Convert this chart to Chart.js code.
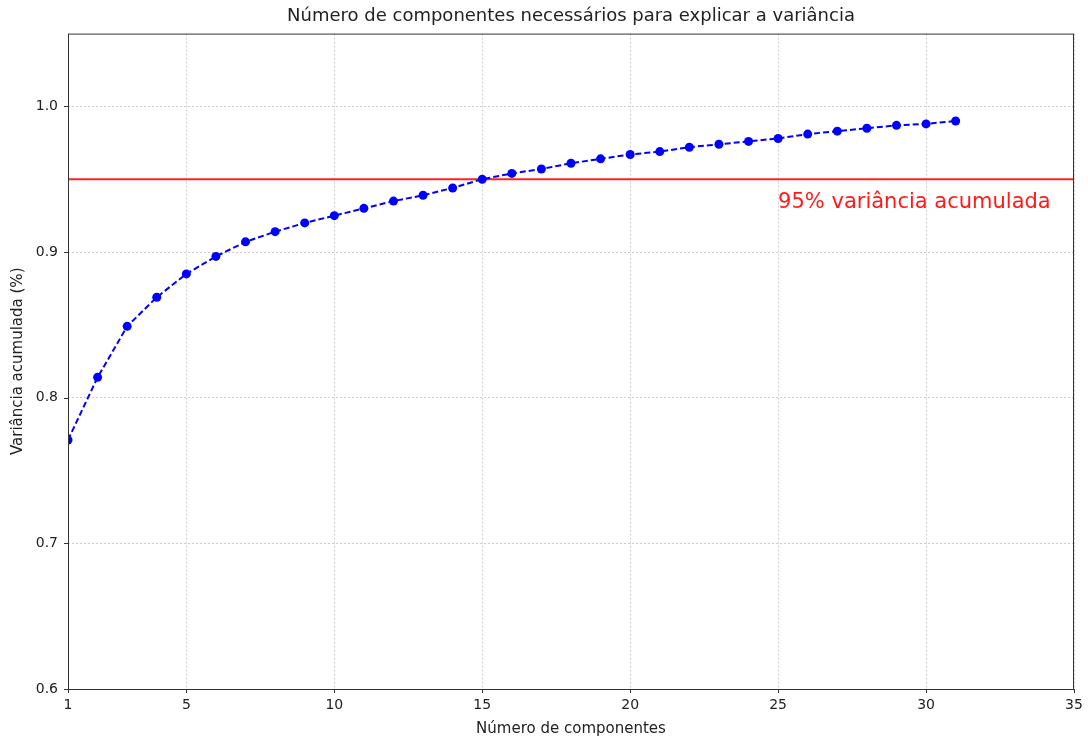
<!DOCTYPE html>
<html>
<head>
<meta charset="utf-8">
<script src="https://cdn.jsdelivr.net/npm/chart.js@4/dist/chart.umd.min.js"></script>
<style>
  html, body { margin: 0; padding: 0; background: #fff; }
  #wrap { width: 1088px; height: 740px; }
</style>
</head>
<body>
<div id="wrap"><canvas id="chart" width="1088" height="740"></canvas></div>
<script>
const components = [1,2,3,4,5,6,7,8,9,10,11,12,13,14,15,16,17,18,19,20,21,22,23,24,25,26,27,28,29,30,31];
const cumVariance = [0.771,0.814,0.849,0.869,0.885,0.897,0.907,0.914,0.920,0.925,
                     0.930,0.935,0.939,0.944,0.950,0.954,0.957,0.961,0.964,0.967,
                     0.969,0.972,0.974,0.976,0.978,0.981,0.983,0.985,0.987,0.988,0.990];
const xTicks = [1,5,10,15,20,25,30,35];
const yTicks = [0.6,0.7,0.8,0.9,1.0];
const threshold = 0.95;
const thresholdLabel = '95% variância acumulada';
const labelAt = {x: 25, y: 0.934};

const FONT = "'DejaVu Sans', sans-serif";
const TXT = '#222';

// matplotlib-like frame, outward tick marks and the red annotation
const framePlugin = {
  id: 'frame',
  afterDraw(chart){
    const {ctx, chartArea:a, scales:{x, y}} = chart;
    ctx.save();
    ctx.strokeStyle = '#333';
    ctx.lineWidth = 1;
    ctx.strokeRect(a.left+0.5, a.top+0.5, a.right-a.left-1, a.bottom-a.top);
    ctx.beginPath();
    xTicks.forEach(v=>{
      const px = Math.round(x.getPixelForValue(v))+0.5;
      ctx.moveTo(px, a.bottom); ctx.lineTo(px, a.bottom+4);
    });
    yTicks.forEach(v=>{
      const py = Math.round(y.getPixelForValue(v))+0.5;
      ctx.moveTo(a.left, py); ctx.lineTo(a.left-4, py);
    });
    ctx.stroke();
    ctx.fillStyle = '#ff1a1a';
    ctx.font = '21px ' + FONT;
    ctx.textAlign = 'left';
    ctx.textBaseline = 'middle';
    ctx.fillText(thresholdLabel, x.getPixelForValue(labelAt.x), y.getPixelForValue(labelAt.y));
    ctx.restore();
  }
};

const ctx = document.getElementById('chart').getContext('2d');
new Chart(ctx, {
  type: 'line',
  data: {
    datasets: [
      {
        data: components.map((c,i)=>({x:c, y:cumVariance[i]})),
        borderColor: '#0000ff',
        backgroundColor: '#0000ff',
        borderWidth: 2,
        borderDash: [6,3],
        pointRadius: 4.5,
        pointBorderWidth: 0,
        tension: 0,
        order: 0
      },
      {
        data: [{x:1, y:threshold},{x:35, y:threshold}],
        borderColor: '#ff2020',
        borderWidth: 2,
        pointRadius: 0,
        order: 1
      }
    ]
  },
  options: {
    responsive: false,
    animation: false,
    layout: {padding: {left: 0, right: 14, top: 0, bottom: 0}},
    plugins: {
      legend: {display: false},
      tooltip: {enabled: false},
      title: {
        display: true,
        fullSize: false,
        text: 'Número de componentes necessários para explicar a variância',
        color: TXT,
        font: {family: FONT, size: 18, weight: 'normal'},
        padding: {top: 6, bottom: 6}
      }
    },
    scales: {
      x: {
        type: 'linear',
        min: 1, max: 35,
        afterBuildTicks: s => { s.ticks = xTicks.map(v=>({value:v})); },
        afterFit: s => { s.height = 51; s.paddingLeft = 0; s.paddingRight = 0; },
        grid: {color: '#cdcdcd', drawTicks: false, lineWidth: 1},
        border: {display: false, dash: [2,2]},
        ticks: {color: TXT, font: {family: FONT, size: 14}, padding: 8, maxRotation: 0},
        title: {display: true, text: 'Número de componentes', color: TXT,
                font: {family: FONT, size: 15}, padding: {top: 0, bottom: 2}}
      },
      y: {
        type: 'linear',
        min: 0.6, max: 1.05,
        afterBuildTicks: s => { s.ticks = yTicks.map(v=>({value:v})); },
        afterFit: s => { s.width = 68; s.paddingTop = 0; s.paddingBottom = 0; },
        grid: {color: '#cdcdcd', drawTicks: false, lineWidth: 1},
        border: {display: false, dash: [2,2]},
        ticks: {color: TXT, font: {family: FONT, size: 14}, padding: 10,
                callback: v => v.toFixed(1)},
        title: {display: true, text: 'Variância acumulada (%)', color: TXT,
                font: {family: FONT, size: 15}, padding: {top: 9, bottom: 0}}
      }
    }
  },
  plugins: [framePlugin]
});
</script>
</body>
</html>
